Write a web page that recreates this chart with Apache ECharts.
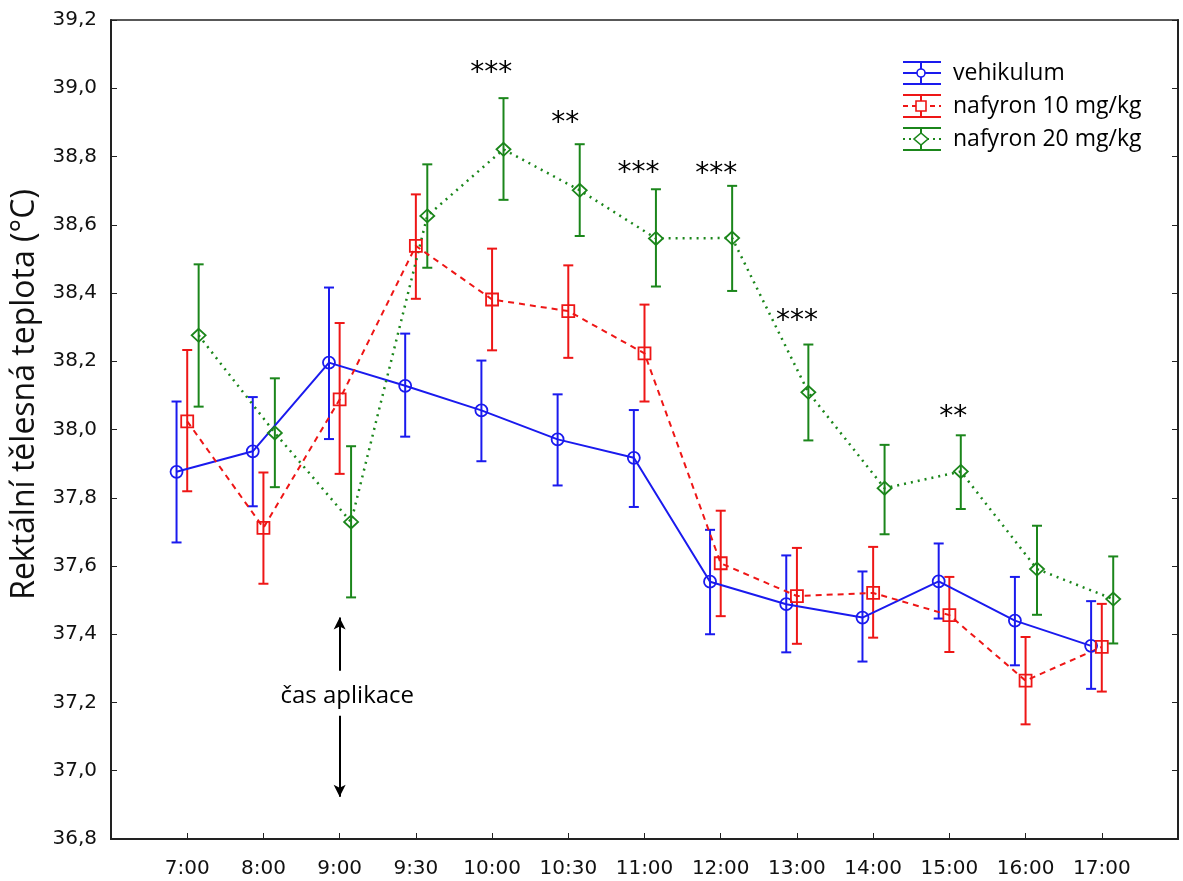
<!DOCTYPE html>
<html lang="cs">
<head>
    <meta charset="UTF-8">
    <title>Rektální tělesná teplota</title>
    <script src="https://cdn.jsdelivr.net/npm/echarts@6/dist/echarts.min.js"></script>
    <style>body { margin: 0; background: #fff; }</style>
</head>
<body>
    <div id="main" style="width: 1183px;height:881px;"></div>
    <script>
        let times = ['7:00', '8:00', '9:00', '9:30', '10:00', '10:30', '11:00', '12:00', '13:00', '14:00', '15:00', '16:00', '17:00']

        // vehikulum
        let vehMean = [37.876, 37.936, 38.196, 38.128, 38.056, 37.971, 37.917, 37.554, 37.488, 37.449, 37.555, 37.440, 37.366]
        let vehHigh = [38.082, 38.095, 38.416, 38.281, 38.202, 38.103, 38.057, 37.706, 37.631, 37.584, 37.666, 37.568, 37.497]
        let vehLow = [37.669, 37.775, 37.972, 37.979, 37.907, 37.836, 37.773, 37.400, 37.347, 37.320, 37.446, 37.309, 37.240]

        // nafyron 10 mg/kg
        let n10Mean = [38.024, 37.712, 38.088, 38.538, 38.381, 38.347, 38.223, 37.608, 37.512, 37.521, 37.456, 37.264, 37.363]
        let n10High = [38.233, 37.874, 38.312, 38.689, 38.530, 38.481, 38.366, 37.762, 37.653, 37.656, 37.568, 37.392, 37.489]
        let n10Low = [37.819, 37.548, 37.870, 38.383, 38.232, 38.210, 38.082, 37.453, 37.372, 37.390, 37.348, 37.136, 37.232]

        // nafyron 20 mg/kg
        let n20Mean = [38.276, 37.990, 37.729, 38.626, 38.821, 38.701, 38.560, 38.561, 38.109, 37.828, 37.877, 37.591, 37.503]
        let n20High = [38.484, 38.150, 37.951, 38.777, 38.971, 38.836, 38.704, 38.714, 38.249, 37.955, 37.983, 37.718, 37.628]
        let n20Low = [38.067, 37.831, 37.508, 38.474, 38.673, 38.567, 38.419, 38.406, 37.968, 37.693, 37.767, 37.457, 37.373]

        // significance marks
        let starText = ['***', '**', '***', '***', '***', '**']
        let starX = [3.99, 4.96, 5.92, 6.94, 8.0, 10.05]
        let starY = [39.044, 38.897, 38.751, 38.748, 38.317, 38.035]

        let seriesNames = ['vehikulum', 'nafyron 10 mg/kg', 'nafyron 20 mg/kg']
    </script>
    <script>
        var chartDom = document.getElementById('main');
        var myChart = echarts.init(chartDom);
        var option;

        var colors = ['#1a1aee', '#ee1616', '#1b861b'];
        var shifts = [-0.14, 0, 0.15];
        var lineTypes = ['solid', [6, 5], [2, 5]];
        var textFont = '"Open Sans", sans-serif';
        var numFont = '"DejaVu Sans", sans-serif';

        function errorBar(color, shift) {
            return function (params, api) {
                var x = api.value(0) + shift;
                var top = api.coord([x, api.value(2)]);
                var bot = api.coord([x, api.value(1)]);
                var w = 5;
                var st = { stroke: color, lineWidth: 2 };
                return {
                    type: 'group',
                    children: [
                        { type: 'line', shape: { x1: top[0], y1: top[1], x2: bot[0], y2: bot[1] }, style: st },
                        { type: 'line', shape: { x1: top[0] - w, y1: top[1], x2: top[0] + w, y2: top[1] }, style: st },
                        { type: 'line', shape: { x1: bot[0] - w, y1: bot[1], x2: bot[0] + w, y2: bot[1] }, style: st }
                    ]
                };
            };
        }

        var groups = [
            { mean: vehMean, low: vehLow, high: vehHigh, symbol: 'circle', size: 12 },
            { mean: n10Mean, low: n10Low, high: n10High, symbol: 'rect', size: 12 },
            { mean: n20Mean, low: n20Low, high: n20High, symbol: 'diamond', size: [14, 13] }
        ];

        var series = [];
        groups.forEach(function (g, k) {
            series.push({
                name: seriesNames[k] + ' err',
                type: 'custom',
                renderItem: errorBar(colors[k], shifts[k]),
                encode: { x: 0, y: [1, 2] },
                data: times.map(function (t, i) { return [i, g.low[i], g.high[i]]; }),
                z: 2
            });
            series.push({
                name: seriesNames[k],
                type: 'line',
                data: times.map(function (t, i) { return [i + shifts[k], g.mean[i]]; }),
                symbol: g.symbol,
                symbolSize: g.size,
                showAllSymbol: true,
                lineStyle: { color: colors[k], width: k == 2 ? 2.5 : 2, type: lineTypes[k] },
                itemStyle: { color: 'rgba(255,255,255,0)', borderColor: colors[k], borderWidth: 1.8 },
                z: 3
            });
        });

        // stars
        series.push({
            type: 'scatter',
            data: starX.map(function (x, i) { return [x, starY[i]]; }),
            symbolSize: 1,
            itemStyle: { color: 'rgba(0,0,0,0)', opacity: 1 },
            label: {
                show: true,
                position: 'inside',
                formatter: function (p) { return starText[p.dataIndex]; },
                fontFamily: numFont,
                fontSize: 28,
                color: '#000',
                textBorderWidth: 0
            },
            z: 4
        });

        // application time
        series.push({
            type: 'scatter',
            data: [[2.1, 37.22]],
            symbolSize: 1,
            itemStyle: { color: 'rgba(0,0,0,0)', opacity: 1 },
            label: {
                show: true,
                position: 'inside',
                formatter: 'čas aplikace',
                fontFamily: textFont,
                fontSize: 24,
                color: '#000',
                textBorderWidth: 0
            },
            markLine: {
                silent: true,
                symbol: ['none', 'arrow'],
                symbolSize: [9, 12],
                label: { show: false },
                lineStyle: { color: '#000', width: 2, type: 'solid' },
                data: [
                    [{ coord: [2, 37.293] }, { coord: [2, 37.449] }],
                    [{ coord: [2, 37.161] }, { coord: [2, 36.924] }]
                ]
            }
        });

        // hand-made legend with error bar icons
        var graphic = [];
        var rowY = [73, 106, 139];
        seriesNames.forEach(function (name, k) {
            var y = rowY[k], cx = 921, c = colors[k];
            var st = { stroke: c, lineWidth: 2 };
            graphic.push({ type: 'line', shape: { x1: 903, y1: y - 11, x2: 941, y2: y - 11 }, style: st });
            graphic.push({ type: 'line', shape: { x1: 903, y1: y + 11, x2: 941, y2: y + 11 }, style: st });
            graphic.push({ type: 'line', shape: { x1: cx, y1: y - 11, x2: cx, y2: y + 11 }, style: st });
            graphic.push({ type: 'line', shape: { x1: 903, y1: y, x2: 941, y2: y }, style: { stroke: c, lineWidth: 2, lineDash: k == 0 ? null : (k == 1 ? [5, 4] : [2, 4]) } });
            var mk = { fill: '#fff', stroke: c, lineWidth: 1.6 };
            if (k == 0) graphic.push({ type: 'circle', shape: { cx: cx, cy: y, r: 4 }, style: mk });
            if (k == 1) graphic.push({ type: 'rect', shape: { x: cx - 5, y: y - 5, width: 10, height: 10 }, style: mk });
            if (k == 2) graphic.push({ type: 'polygon', shape: { points: [[cx, y - 6], [cx + 7, y], [cx, y + 6], [cx - 7, y]] }, style: mk });
            graphic.push({
                type: 'text', x: 953, y: y,
                style: { text: name, fontFamily: textFont, fontSize: 23, fill: '#000', verticalAlign: 'middle' }
            });
        });

        option = {
            animation: false,
            backgroundColor: '#fff',
            grid: {
                left: 111,
                right: 5,
                top: 20,
                bottom: 42,
                show: true,
                borderColor: '#222',
                borderWidth: 1.5
            },
            xAxis: {
                type: 'value',
                min: -1,
                max: 13,
                interval: 1,
                splitLine: { show: false },
                axisLine: { onZero: false, lineStyle: { color: '#222', width: 2 } },
                axisTick: { inside: true, length: 6, lineStyle: { color: '#222' } },
                axisLabel: {
                    margin: 20,
                    fontFamily: numFont,
                    fontSize: 20,
                    color: '#111',
                    formatter: function (v) { return times[v] || ''; }
                }
            },
            yAxis: [
                {
                    type: 'value',
                    min: 36.8,
                    max: 39.2,
                    interval: 0.2,
                    name: 'Rektální tělesná teplota (°C)',
                    nameLocation: 'middle',
                    nameGap: 70,
                    nameTextStyle: { fontFamily: textFont, fontSize: 32, color: '#111', padding: [0, 0, 0, 70] },
                    splitLine: { show: false },
                    axisLine: { show: true, onZero: false, lineStyle: { color: '#222', width: 2 } },
                    axisTick: { show: true, inside: true, length: 6, lineStyle: { color: '#222' } },
                    axisLabel: {
                        margin: 14,
                        fontFamily: numFont,
                        fontSize: 20,
                        color: '#111',
                        formatter: function (v) { return v.toFixed(1).replace('.', ','); }
                    }
                },
                {
                    type: 'value',
                    position: 'right',
                    min: 36.8,
                    max: 39.2,
                    interval: 0.2,
                    splitLine: { show: false },
                    axisLine: { show: true, onZero: false, lineStyle: { color: '#222', width: 2 } },
                    axisTick: { show: true, inside: true, length: 6, lineStyle: { color: '#222' } },
                    axisLabel: { show: false }
                }
            ],
            graphic: graphic,
            series: series
        };

        option && myChart.setOption(option);
    </script>
</body>
</html>
